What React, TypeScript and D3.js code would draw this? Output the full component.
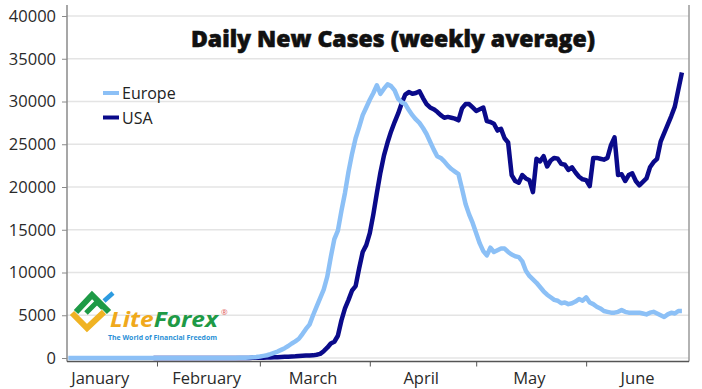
import { useEffect, useRef } from 'react';
import * as d3 from 'd3';

// daily values, weekly average of new cases
const europeStart = '2020-01-07';
const europeCases = [
  0, 0, 0, 0, 0, 0, 0, 0, 0, 0, 0, 0, 0, 0, 0, 0, 0, 0, 0, 0, 0, 0, 0, 0, 0,
  0, 0, 0, 0, 0, 0, 0, 0, 0, 0, 0, 0, 0, 0, 0,
  0, 0, 0, 0, 5, 5, 10, 10,
  20, 30, 40, 50, 80, 120, 180, 250, 320, 450, 600, 750, 950, 1150, 1400, 1700,
  1950, 2250, 2800, 3400, 3900, 5000, 6000, 7000, 8000, 9500, 11800, 13900,
  14900, 17200, 19300, 21800, 23900, 25700, 27000, 28400, 29300, 30200, 31000,
  31900, 30900, 31500, 32000, 31800, 31300, 30300, 29900, 29700, 29000, 28400,
  27900, 27500, 26900, 26200, 25300, 24400, 23600, 23400, 23000, 22500, 22100,
  21800, 21500, 19800, 18000, 16800, 15800, 14600, 13400, 12500, 12000, 12900,
  12400, 12600, 12800, 12800, 12400, 12100, 11900, 11800, 11300, 10200, 9600,
  9200, 8800, 8300, 7800, 7400, 7100, 6800, 6700, 6400, 6500, 6300, 6400, 6600,
  6900, 6700, 7100, 6500, 6300, 6000, 5800, 5500, 5400, 5300, 5300, 5400, 5600,
  5400, 5300, 5300, 5300, 5300, 5200, 5100, 5300, 5400, 5200, 5000, 4800, 5100,
  5300, 5200, 5500, 5500,
];

const usaStart = '2020-01-31';
const usaCases = [
  0, 0, 0, 0, 0, 0, 0, 0, 0, 0, 0, 0, 0, 0, 0, 0, 0, 0, 0, 0, 0, 0, 0, 0, 0,
  5, 5,
  10, 15, 20, 30, 40, 50, 60, 80, 100, 120, 140, 160, 180, 200, 230, 260, 280,
  300, 310, 380, 480, 800, 1200, 1700, 1900, 2600, 4400, 5800, 6800, 7900, 8400,
  10500, 12400, 13200, 14600, 16800, 19300, 21700, 23700, 25200, 26500, 27600,
  28600, 29800, 30800, 31100, 30900, 31000, 31200, 30400, 29700, 29300, 29100,
  28800, 28400, 28100, 28200, 28100, 28000, 27800, 29200, 29700, 29700, 29300,
  28900, 29100, 29300, 27700, 27600, 27400, 26600, 26800, 25700, 25200, 21400,
  20700, 20500, 21400, 21000, 20800, 19400, 23300, 23000, 23600, 22400, 23100,
  23400, 23300, 22700, 22600, 22000, 22300, 21700, 21200, 20900, 20800, 20100,
  23400, 23400, 23300, 23200, 23400, 24900, 25800, 21400, 21500, 20700, 21400,
  21600, 20700, 20200, 20600, 21000, 22300, 22900, 23300, 25300, 26300, 27300,
  28300, 29400, 31400, 33400,
];

const yTicks = [0, 5000, 10000, 15000, 20000, 25000, 30000, 35000, 40000];
const monthTicks = ['2020-02-01', '2020-03-01', '2020-04-01', '2020-05-01', '2020-06-01'];
const monthLabels = ['January', 'February', 'March', 'April', 'May', 'June'];
const monthMids = ['2020-01-16', '2020-02-15', '2020-03-16', '2020-04-15.5', '2020-05-16', '2020-06-15.5'];

const title = 'Daily New Cases (weekly average)';
const seriesNames = ['Europe', 'USA'];

const parse = (s: string) => {
  const [y, m, d] = s.split('-');
  const day = parseFloat(d);
  const dt = new Date(+y, +m - 1, Math.floor(day));
  return new Date(dt.getTime() + (day % 1) * 864e5);
};

const toSeries = (start: string, values: number[]) =>
  values.map((v, i) => ({ date: d3.timeDay.offset(parse(start), i), value: v }));

const App = () => {
  const ref = useRef<SVGSVGElement | null>(null);

  useEffect(() => {
    if (!ref.current) return;
    const svg = d3.select(ref.current);
    svg.selectAll('*').remove();

    const font = "'Open Sans', 'Noto Sans', sans-serif";
    const left = 67;
    const right = 689;
    const top = 5;
    const bottom = 361.5;

    const x = d3.scaleTime()
      .domain([new Date(2020, 0, 6, 15), new Date(2020, 5, 30)])
      .range([left, right]);
    const y = d3.scaleLinear().domain([0, 40000]).range([358, 16]);

    // gridlines
    svg.append('g')
      .selectAll('line')
      .data(yTicks)
      .join('line')
      .attr('x1', left)
      .attr('x2', right)
      .attr('y1', d => y(d))
      .attr('y2', d => y(d))
      .attr('stroke', '#e4e4e4')
      .attr('stroke-width', 1.5);

    // y axis
    const yAxis = svg.append('g')
      .attr('transform', `translate(${left},0)`)
      .call(d3.axisLeft(y).tickValues(yTicks).tickSize(5).tickPadding(6).tickFormat(d3.format('d')));
    yAxis.select('.domain').remove();
    yAxis.selectAll('line').attr('stroke', '#8a8a8a');
    yAxis.selectAll('text')
      .attr('fill', '#2a2a2a')
      .style('font-family', font)
      .style('font-size', '16.5px');

    // x axis ticks
    const xAxis = svg.append('g')
      .attr('transform', `translate(0,${bottom})`)
      .call(d3.axisBottom(x).tickValues(monthTicks.map(parse)).tickSize(5).tickFormat(() => ''));
    xAxis.select('.domain').remove();
    xAxis.selectAll('line').attr('stroke', '#555');

    svg.append('g')
      .selectAll('text')
      .data(monthLabels)
      .join('text')
      .attr('x', (_, i) => x(parse(monthMids[i])))
      .attr('y', 384)
      .attr('text-anchor', 'middle')
      .attr('fill', '#2a2a2a')
      .style('font-family', font)
      .style('font-size', '16.5px')
      .text(d => d);

    // frame
    svg.append('line').attr('x1', left).attr('x2', left).attr('y1', top).attr('y2', bottom)
      .attr('stroke', '#8a8a8a').attr('stroke-width', 1.5);
    svg.append('line').attr('x1', right).attr('x2', right).attr('y1', top).attr('y2', bottom)
      .attr('stroke', '#9a9a9a').attr('stroke-width', 1.5);
    svg.append('line').attr('x1', left).attr('x2', right).attr('y1', bottom).attr('y2', bottom)
      .attr('stroke', '#555').attr('stroke-width', 1.5);

    // logo
    const logo = svg.append('g');
    logo.append('polyline')
      .attr('points', '72,313 87,328 104,312')
      .attr('fill', 'none').attr('stroke', '#f0b323').attr('stroke-width', 6);
    logo.append('polyline')
      .attr('points', '76,312 92,295 109,312')
      .attr('fill', 'none').attr('stroke', '#1e9a46').attr('stroke-width', 6);
    logo.append('polyline')
      .attr('points', '86,313 97,302 103,308')
      .attr('fill', 'none').attr('stroke', '#1e9a46').attr('stroke-width', 5);
    logo.append('line')
      .attr('x1', 104).attr('y1', 301).attr('x2', 113).attr('y2', 293)
      .attr('stroke', '#2d9be0').attr('stroke-width', 4.5);
    const brand = logo.append('text')
      .attr('x', 110).attr('y', 327)
      .attr('textLength', 108)
      .attr('lengthAdjust', 'spacingAndGlyphs')
      .style('font-family', font)
      .style('font-size', '22px')
      .style('font-weight', 700)
      .style('font-style', 'italic');
    brand.append('tspan').attr('fill', '#f0a91c').text('Lite');
    brand.append('tspan').attr('fill', '#1e9a46').text('Forex');
    logo.append('text')
      .attr('x', 221).attr('y', 315)
      .attr('fill', '#e05a5a')
      .style('font-family', font)
      .style('font-size', '8px')
      .text('®');
    logo.append('text')
      .attr('x', 108).attr('y', 340)
      .attr('textLength', 109)
      .attr('lengthAdjust', 'spacingAndGlyphs')
      .attr('fill', '#2a8fd6')
      .style('font-family', font)
      .style('font-size', '7.5px')
      .style('font-weight', 700)
      .text('The World of Financial Freedom');

    // lines
    const line = d3.line<{ date: Date; value: number }>()
      .x(d => x(d.date))
      .y(d => y(d.value));

    const usa = toSeries(usaStart, usaCases);
    const europe = toSeries(europeStart, europeCases);

    svg.append('path')
      .datum(usa)
      .attr('fill', 'none')
      .attr('stroke', '#0a0a8a')
      .attr('stroke-width', 4.5)
      .attr('stroke-linejoin', 'round')
      .attr('d', line);

    svg.append('path')
      .datum(europe)
      .attr('fill', 'none')
      .attr('stroke', '#8cc0f6')
      .attr('stroke-width', 4.5)
      .attr('stroke-linejoin', 'round')
      .attr('d', line);

    // title
    svg.append('text')
      .attr('x', 393)
      .attr('y', 47)
      .attr('text-anchor', 'middle')
      .attr('fill', '#111')
      .attr('stroke', '#111')
      .attr('stroke-width', 0.6)
      .style('font-family', font)
      .style('font-size', '23px')
      .style('font-weight', 800)
      .text(title);

    // legend
    const colors = ['#8cc0f6', '#0a0a8a'];
    const legend = svg.append('g').attr('transform', 'translate(103,93)');
    seriesNames.forEach((name, i) => {
      const g = legend.append('g').attr('transform', `translate(0,${i * 24.5})`);
      g.append('line').attr('x1', 0).attr('x2', 16).attr('y1', 0).attr('y2', 0)
        .attr('stroke', colors[i]).attr('stroke-width', 4);
      g.append('text')
        .attr('x', 19).attr('y', 6)
        .attr('fill', '#222')
        .style('font-family', font)
        .style('font-size', '16px')
        .text(name);
    });
  }, []);

  return (
    <svg
      ref={ref}
      width={702}
      height={389}
      style={{ position: 'absolute', left: 0, top: 0, background: '#fff' }}
    />
  );
};

export default App;
